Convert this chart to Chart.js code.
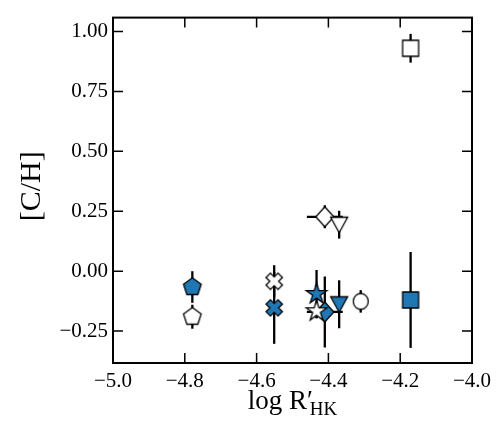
<!DOCTYPE html>
<html>
<head>
<meta charset="utf-8">
<title>[C/H] vs log R'HK</title>
<script src="https://cdn.jsdelivr.net/npm/chart.js@4.4.0/dist/chart.umd.min.js"></script>
<style>
	html, body { margin: 0; padding: 0; background: #fff; }
	.chart-box { width: 504px; height: 423px; position: relative; }
</style>
</head>
<body>
<div class="chart-box"><canvas id="mainChart"></canvas></div>
<script>
// axis ticks
const xTicks = [-5.0, -4.8, -4.6, -4.4, -4.2, -4.0];
const yTicks = [-0.25, 0.0, 0.25, 0.50, 0.75, 1.00];

// one column per star, each with its own marker
const shapes = ['pentagon', 'xfill', 'star', 'diamond', 'triDown', 'circle', 'square'];
const logR = [-4.779, -4.551, -4.433, -4.41, -4.37, -4.31, -4.171];
const logRErr = [0, 0, 0, 0.05, 0, 0, 0];

// filled (blue) points
const cFilled = [-0.066, -0.153, -0.095, -0.17, -0.138, null, -0.12];
const cFilledErr = [0.066, 0.15, 0.10, 0.148, 0.10, null, 0.20];

// open points
const cOpen = [-0.19, -0.042, -0.167, 0.227, 0.194, -0.126, 0.93];
const cOpenErr = [0.05, 0.067, 0.03, 0.048, 0.058, 0.047, 0.06];

const BLUE = '#1f77b4';
const FONT = "'Liberation Serif', 'DejaVu Serif', serif";

document.addEventListener("DOMContentLoaded", () => {
	initChart();
});

// builds a small canvas with the marker shape, used as pointStyle
function makeMarker(shape, fill) {
	const size = 28;
	const c = document.createElement('canvas');
	c.width = size;
	c.height = size;
	const g = c.getContext('2d');
	g.translate(size / 2, size / 2);
	g.beginPath();

	if (shape === 'pentagon') {
		const r = 9.3;
		for (let i = 0; i < 5; i++) {
			const a = -Math.PI / 2 + i * 2 * Math.PI / 5;
			g.lineTo(r * Math.cos(a), r * Math.sin(a));
		}
	} else if (shape === 'star') {
		const r = 10.8, ri = r * 0.382;
		for (let i = 0; i < 10; i++) {
			const a = -Math.PI / 2 + i * Math.PI / 5;
			const rr = i % 2 ? ri : r;
			g.lineTo(rr * Math.cos(a), rr * Math.sin(a));
		}
	} else if (shape === 'xfill') {
		const a = 8.5, b = 3.1;
		const pts = [[b, b], [a, b], [a, -b], [b, -b], [b, -a], [-b, -a], [-b, -b], [-a, -b], [-a, b], [-b, b], [-b, a], [b, a]];
		const k = Math.SQRT1_2;
		pts.forEach(p => g.lineTo((p[0] - p[1]) * k, (p[0] + p[1]) * k));
	} else if (shape === 'diamond') {
		g.moveTo(0, -10);
		g.lineTo(9, 0);
		g.lineTo(0, 10);
		g.lineTo(-9, 0);
	} else if (shape === 'triDown') {
		g.moveTo(-8.5, -7.5);
		g.lineTo(8.5, -7.5);
		g.lineTo(0, 8);
	} else if (shape === 'circle') {
		g.ellipse(0, 0, 7.5, 8, 0, 0, Math.PI * 2);
	} else if (shape === 'square') {
		g.rect(-8, -8, 16, 16);
	}

	g.closePath();
	g.fillStyle = fill;
	g.fill();
	g.lineWidth = 1.3;
	g.lineJoin = 'miter';
	g.strokeStyle = '#000';
	g.stroke();
	return c;
}

function buildSet(values, errors, fill) {
	const data = [], styles = [], yErr = [], xErr = [];
	values.forEach((v, i) => {
		if (v === null) return;
		data.push({ x: logR[i], y: v });
		styles.push(makeMarker(shapes[i], fill));
		yErr.push(errors[i]);
		xErr.push(logRErr[i]);
	});
	return { data, pointStyle: styles, yErr, xErr, showLine: false };
}

function fmt(v, d) {
	const s = Math.abs(v).toFixed(d);
	return v < -1e-9 ? '\u2212' + s : s;
}

// error bars under the markers
const errorBars = {
	id: 'errorBars',
	beforeDatasetsDraw(chart) {
		const { ctx, scales: { x, y } } = chart;
		ctx.save();
		ctx.strokeStyle = '#000';
		ctx.lineWidth = 2.3;
		chart.data.datasets.forEach(ds => {
			ds.data.forEach((p, i) => {
				const px = x.getPixelForValue(p.x);
				const py = y.getPixelForValue(p.y);
				ctx.beginPath();
				ctx.moveTo(px, y.getPixelForValue(p.y - ds.yErr[i]));
				ctx.lineTo(px, y.getPixelForValue(p.y + ds.yErr[i]));
				if (ds.xErr[i]) {
					ctx.moveTo(x.getPixelForValue(p.x - ds.xErr[i]), py);
					ctx.lineTo(x.getPixelForValue(p.x + ds.xErr[i]), py);
				}
				ctx.stroke();
			});
		});
		ctx.restore();
	}
};

// box frame, inward ticks and axis titles
const frame = {
	id: 'frame',
	afterDraw(chart) {
		const { ctx, chartArea: a, scales: { x, y } } = chart;
		ctx.save();
		ctx.strokeStyle = '#000';
		ctx.lineWidth = 1.5;
		ctx.beginPath();
		xTicks.forEach(v => {
			const px = x.getPixelForValue(v);
			ctx.moveTo(px, a.bottom);
			ctx.lineTo(px, a.bottom - 10);
			ctx.moveTo(px, a.top);
			ctx.lineTo(px, a.top + 10);
		});
		yTicks.forEach(v => {
			const py = y.getPixelForValue(v);
			ctx.moveTo(a.left, py);
			ctx.lineTo(a.left + 10, py);
			ctx.moveTo(a.right, py);
			ctx.lineTo(a.right - 10, py);
		});
		ctx.stroke();

		ctx.lineWidth = 2;
		ctx.strokeRect(a.left, a.top, a.right - a.left, a.bottom - a.top);

		// x title: log R'_HK
		ctx.fillStyle = '#000';
		ctx.textBaseline = 'alphabetic';
		const main = 'log R\u2032';
		ctx.font = '27px ' + FONT;
		const w1 = ctx.measureText(main).width;
		ctx.font = '19px ' + FONT;
		const w2 = ctx.measureText('HK').width;
		const x0 = (a.left + a.right) / 2 - (w1 + w2 - 3) / 2;
		ctx.font = '27px ' + FONT;
		ctx.textAlign = 'left';
		ctx.fillText(main, x0, 409);
		ctx.font = '19px ' + FONT;
		ctx.fillText('HK', x0 + w1 - 3, 415);

		// y title
		ctx.translate(32, (a.top + a.bottom) / 2 - 4);
		ctx.rotate(-Math.PI / 2);
		ctx.font = '30px ' + FONT;
		ctx.textAlign = 'center';
		ctx.textBaseline = 'middle';
		ctx.fillText('[C/H]', 0, 0);
		ctx.restore();
	}
};

function initChart() {
	const ctx = document.getElementById('mainChart');
	if (!ctx) return;

	const open = buildSet(cOpen, cOpenErr, '#ffffff');
	const filled = buildSet(cFilled, cFilledErr, BLUE);

	new Chart(ctx, {
		type: 'scatter',
		data: { datasets: [open, filled] },
		options: {
			responsive: true,
			maintainAspectRatio: false,
			animation: false,
			layout: { padding: { top: 5, right: 32, left: 0, bottom: 0 } },
			plugins: {
				legend: { display: false },
				tooltip: { enabled: false }
			},
			scales: {
				x: {
					type: 'linear',
					min: -5.0,
					max: -4.0,
					afterBuildTicks: s => { s.ticks = xTicks.map(v => ({ value: v })); },
					afterFit: s => { s.height = 60; },
					grid: { display: false, drawTicks: false },
					border: { display: false },
					ticks: {
						color: '#000',
						padding: 6,
						maxRotation: 0,
						font: { family: FONT, size: 21 },
						callback: v => fmt(v, 1)
					}
				},
				y: {
					min: -0.383,
					max: 1.058,
					afterBuildTicks: s => { s.ticks = yTicks.map(v => ({ value: v })); },
					afterFit: s => { s.width = 113; },
					grid: { display: false, drawTicks: false },
					border: { display: false },
					ticks: {
						color: '#000',
						padding: 5,
						font: { family: FONT, size: 21 },
						callback: v => fmt(v, 2)
					}
				}
			}
		},
		plugins: [errorBars, frame]
	});
}
</script>
</body>
</html>
